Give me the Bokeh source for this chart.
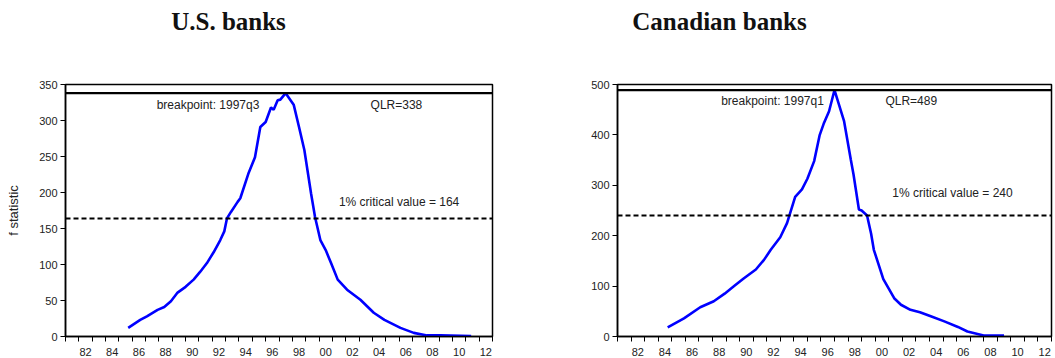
from bokeh.plotting import figure
from bokeh.layouts import row, column
from bokeh.models import FixedTicker, Span, Label
from bokeh.embed import file_html
from bokeh.resources import INLINE

# ---------------- data ----------------
us_year = [1985.7, 1986.6, 1987.1, 1987.9, 1988.4, 1988.9, 1989.4, 1990.0, 1990.6, 1991.1,
           1991.6, 1992.1, 1992.6, 1992.9, 1993.1, 1993.4, 1993.9, 1994.1, 1994.7, 1995.2,
           1995.6, 1996.0, 1996.4, 1996.6, 1996.9, 1997.1, 1997.5, 1998.1, 1998.5, 1998.9,
           1999.4, 1999.7, 2000.1, 2000.5, 2000.9, 2001.4, 2002.1, 2003.1, 2004.1, 2004.9,
           2006.1, 2007.1, 2008.1, 2009.1, 2011.4]
us_fstat = [12, 23, 28, 37, 41, 49, 61, 69, 79, 90,
            102, 117, 134, 146, 164, 173, 187, 192, 226, 249,
            291, 298, 318, 315, 328, 329, 338, 322, 291, 259,
            199, 166, 134, 120, 102, 79, 65, 51, 33, 23,
            12, 5, 1.5, 1.5, 0.5]

ca_year = [1984.7, 1985.9, 1987.1, 1988.1, 1988.9, 1989.6, 1990.3, 1991.2, 1991.8, 1992.3,
           1993.0, 1993.5, 1994.1, 1994.6, 1995.0, 1995.5, 1995.9, 1996.2, 1996.6, 1997.0,
           1997.7, 1998.2, 1998.4, 1998.8, 1999.0, 1999.4, 1999.7, 1999.9, 2000.6, 2001.4,
           2001.9, 2002.6, 2003.3, 2004.1, 2005.1, 2006.1, 2006.8, 2008.0, 2009.5]
ca_fstat = [18, 36, 58, 70, 85, 100, 115, 133, 152, 172,
            197, 225, 277, 292, 313, 348, 399, 422, 447, 489,
            428, 351, 322, 252, 250, 240, 204, 172, 114, 76,
            63, 53, 48, 40, 30, 19, 10, 2, 2]

us_qlr, us_crit = 338, 164
ca_qlr, ca_crit = 489, 240

tick_years = [1982.5 + 2 * i for i in range(16)]
tick_labels = ["82", "84", "86", "88", "90", "92", "94", "96", "98",
               "00", "02", "04", "06", "08", "10", "12"]
year_ticks = list(range(1981, 2014))

FONT = "Liberation Sans"
TITLE_H = 40


def make_title(text, width, cx):
    t = figure(width=width, height=TITLE_H, x_range=(0, width), y_range=(0, TITLE_H),
               output_backend="svg", toolbar_location=None,
               x_axis_location=None, y_axis_location=None,
               min_border_left=0, min_border_right=0, min_border_top=0, min_border_bottom=0)
    t.grid.visible = False
    t.outline_line_color = None
    t.add_layout(Label(x=cx, y=TITLE_H - 21, text=text, text_align="center",
                       text_baseline="middle", text_font="Liberation Serif",
                       text_font_size="25px", text_font_style="bold", text_color="#111111"))
    return t


def make_panel(xs, ys, qlr, crit, ymax, ystep, width, borders, ylabel, texts):
    left, right, top, bottom = borders
    p = figure(width=width, height=358 - TITLE_H, x_range=(1981, 2013), y_range=(0, ymax),
               output_backend="svg", toolbar_location=None,
               min_border_left=left, min_border_right=right,
               min_border_top=top - TITLE_H, min_border_bottom=bottom)
    p.grid.visible = False
    p.outline_line_color = "black"
    p.outline_line_width = 1.5
    p.background_fill_color = "white"
    p.border_fill_color = "white"

    # x axis
    xa = p.xaxis[0]
    xa.ticker = FixedTicker(ticks=tick_years, minor_ticks=year_ticks)
    xa.major_label_overrides = {t: l for t, l in zip(tick_years, tick_labels)}
    xa.major_tick_out = 0
    xa.major_tick_in = 0
    xa.minor_tick_out = 5
    xa.minor_tick_in = 0
    xa.minor_tick_line_color = "black"
    xa.axis_line_color = "black"
    xa.axis_line_width = 1.5
    xa.major_label_standoff = 6
    xa.major_label_text_font = FONT
    xa.major_label_text_font_size = "11px"
    xa.major_label_text_color = "#222222"

    # y axis
    ya = p.yaxis[0]
    ya.ticker = FixedTicker(ticks=list(range(0, ymax + 1, ystep)))
    ya.major_tick_out = 5
    ya.major_tick_in = 0
    ya.minor_tick_line_color = None
    ya.axis_line_color = "black"
    ya.axis_line_width = 1.5
    ya.major_label_standoff = 3
    ya.major_label_text_font = FONT
    ya.major_label_text_font_size = "11px"
    ya.major_label_text_color = "#222222"
    if ylabel:
        ya.axis_label = ylabel
        ya.axis_label_text_font = FONT
        ya.axis_label_text_font_size = "13px"
        ya.axis_label_text_font_style = "normal"
        ya.axis_label_text_color = "#222222"
        ya.axis_label_standoff = 15

    p.add_layout(Span(location=qlr, dimension="width", line_color="black", line_width=2.2))
    p.add_layout(Span(location=crit, dimension="width", line_color="black",
                      line_width=2, line_dash="5 3"))

    p.line(xs, ys, line_color="#0000FF", line_width=2.6)

    for (tx, ty, t) in texts:
        p.add_layout(Label(x=tx, y=ty, text=t, text_align="center", text_baseline="middle",
                           text_font=FONT, text_font_size="12px", text_color="#222222"))
    return p


t1 = make_title("U.S. banks", 527, 228)
t2 = make_title("Canadian banks", 528, 192)

p1 = make_panel(us_year, us_fstat, us_qlr, us_crit, 350, 50, 527,
                (65, 35, 84, 21), "f statistic",
                [(1991.68, 322, "breakpoint: 1997q3"),
                 (2005.8, 322, "QLR=" + str(us_qlr)),
                 (2006.0, 187, "1% critical value = " + str(us_crit))])

p2 = make_panel(ca_year, ca_fstat, ca_qlr, ca_crit, 500, 100, 528,
                (90, 4, 76, 22), None,
                [(1992.43, 467, "breakpoint: 1997q1"),
                 (2002.66, 467, "QLR=" + str(ca_qlr)),
                 (2005.7, 285, "1% critical value = " + str(ca_crit))])

layout = column(row(t1, t2), row(p1, p2))
open("out.html", "w").write(file_html(layout, INLINE))
